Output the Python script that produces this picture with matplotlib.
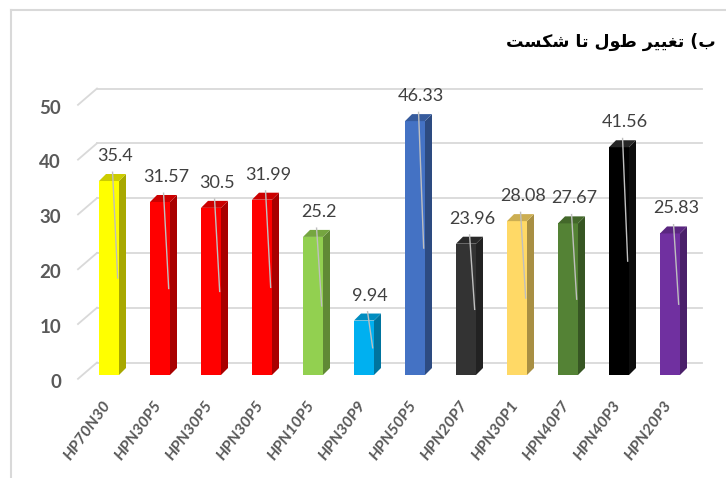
import numpy as np
import matplotlib.pyplot as plt
from matplotlib.patches import Polygon
from matplotlib.colors import to_rgb

# data
names = ['HP70N30', 'HPN30P5', 'HPN30P5', 'HPN30P5', 'HPN10P5', 'HPN30P9',
         'HPN50P5', 'HPN20P7', 'HPN30P1', 'HPN40P7', 'HPN40P3', 'HPN20P3']
values = [35.4, 31.57, 30.5, 31.99, 25.2, 9.94, 46.33, 23.96, 28.08, 27.67, 41.56, 25.83]
labels = ['35.4', '31.57', '30.5', '31.99', '25.2', '9.94', '46.33', '23.96',
          '28.08', '27.67', '41.56', '25.83']
colors = ['#FFFF00', '#FF0000', '#FF0000', '#FF0000', '#92D050', '#00B0F0',
          '#4472C4', '#333333', '#FFD966', '#548235', '#000000', '#7030A0']
yticks = [0, 10, 20, 30, 40, 50]

# title, pre-shaped arabic presentation forms in visual order
title = '\uFE96\uFEB4\uFB91\uFEB7 \uFE8E\uFE97 \uFEDD\uFEEE\uFEC3 \uFEAE\uFBFF\uFBFF\uFED0\uFE97 (\uFE8F'

W, H = 726, 478
fig = plt.figure(figsize=(W / 100, H / 100), dpi=100)

# pixel scale of the chart: one bar step = 51 px, one unit = 5.48 px
px_x = 51.0
px_y = 5.48
x0_pix = 109
y0_pix = 375

left, right, top, bottom = 70, 715, 70, 395
ax = fig.add_axes([left / W, 1 - bottom / H, (right - left) / W, (bottom - top) / H])
ax.set_xlim((left - x0_pix) / px_x, (right - x0_pix) / px_x)
ax.set_ylim((y0_pix - bottom) / px_y, (y0_pix - top) / px_y)
ax.axis('off')

grid_c = '#D9D9D9'
dgx = -12 / px_x
gy = 12.5 / px_y

# back wall gridlines and slanted front ticks
for v in yticks:
    ax.plot([dgx, (702 - x0_pix) / px_x], [v + gy, v + gy], color=grid_c, lw=1.3, zorder=1)
    ax.plot([-31 / px_x, dgx], [v - 0.7, v + gy], color=grid_c, lw=1.3, zorder=1)
    ax.text(-48 / px_x, v - 7 / px_y, str(v), ha='right', va='center',
            fontsize=13.5, fontweight='bold', color='#595959', family='Lato')

# 3d-ish bars
hw = 10 / px_x
sx = 7 / px_x
sy = 7 / px_y


def shade(c, f):
    r, g, b = to_rgb(c)
    return (r * f, g * f, b * f)


for i, v in enumerate(values):
    c = colors[i]
    if c == '#000000':
        top_c, side_c = '#262626', '#0d0d0d'
    else:
        top_c, side_c = shade(c, 0.8), shade(c, 0.66)
    front = Polygon([(i - hw, 0), (i + hw, 0), (i + hw, v), (i - hw, v)],
                    closed=True, fc=c, ec='none', zorder=3)
    side = Polygon([(i + hw, 0), (i + hw + sx, sy), (i + hw + sx, v + sy), (i + hw, v)],
                   closed=True, fc=side_c, ec='none', zorder=3)
    topf = Polygon([(i - hw, v), (i + hw, v), (i + hw + sx, v + sy), (i - hw + sx, v + sy)],
                   closed=True, fc=top_c, ec='none', zorder=3)
    for p in (front, side, topf):
        ax.add_patch(p)

    # data label with leader line
    ax.text(i + 0.12, v + 25 / px_y, labels[i], ha='center', va='center',
            fontsize=13, color='#404040', family='Lato', zorder=5)
    ax.plot([i + 0.07, i + 0.17], [v + 1.6, v / 2], color='#BFBFBF', lw=1, zorder=4)

    # category label
    ax.text(i - 0.02, -28 / px_y, names[i], ha='right', va='center', rotation=54,
            rotation_mode='anchor', fontsize=11.5, fontweight='bold', fontstyle='italic',
            color='#595959', family='Lato', clip_on=False)

# title
fig.text(716 / W, 1 - 42 / H, title, ha='right', va='center', fontsize=12.5,
         fontweight='bold', color='black', family='DejaVu Sans')

# light frame at top and left
fig.add_artist(plt.Line2D([11 / W, 1], [1 - 10 / H, 1 - 10 / H], color='#D9D9D9', lw=1.5))
fig.add_artist(plt.Line2D([11 / W, 11 / W], [0, 1 - 10 / H], color='#D9D9D9', lw=1.5))

fig.savefig('out.png', dpi=100)
